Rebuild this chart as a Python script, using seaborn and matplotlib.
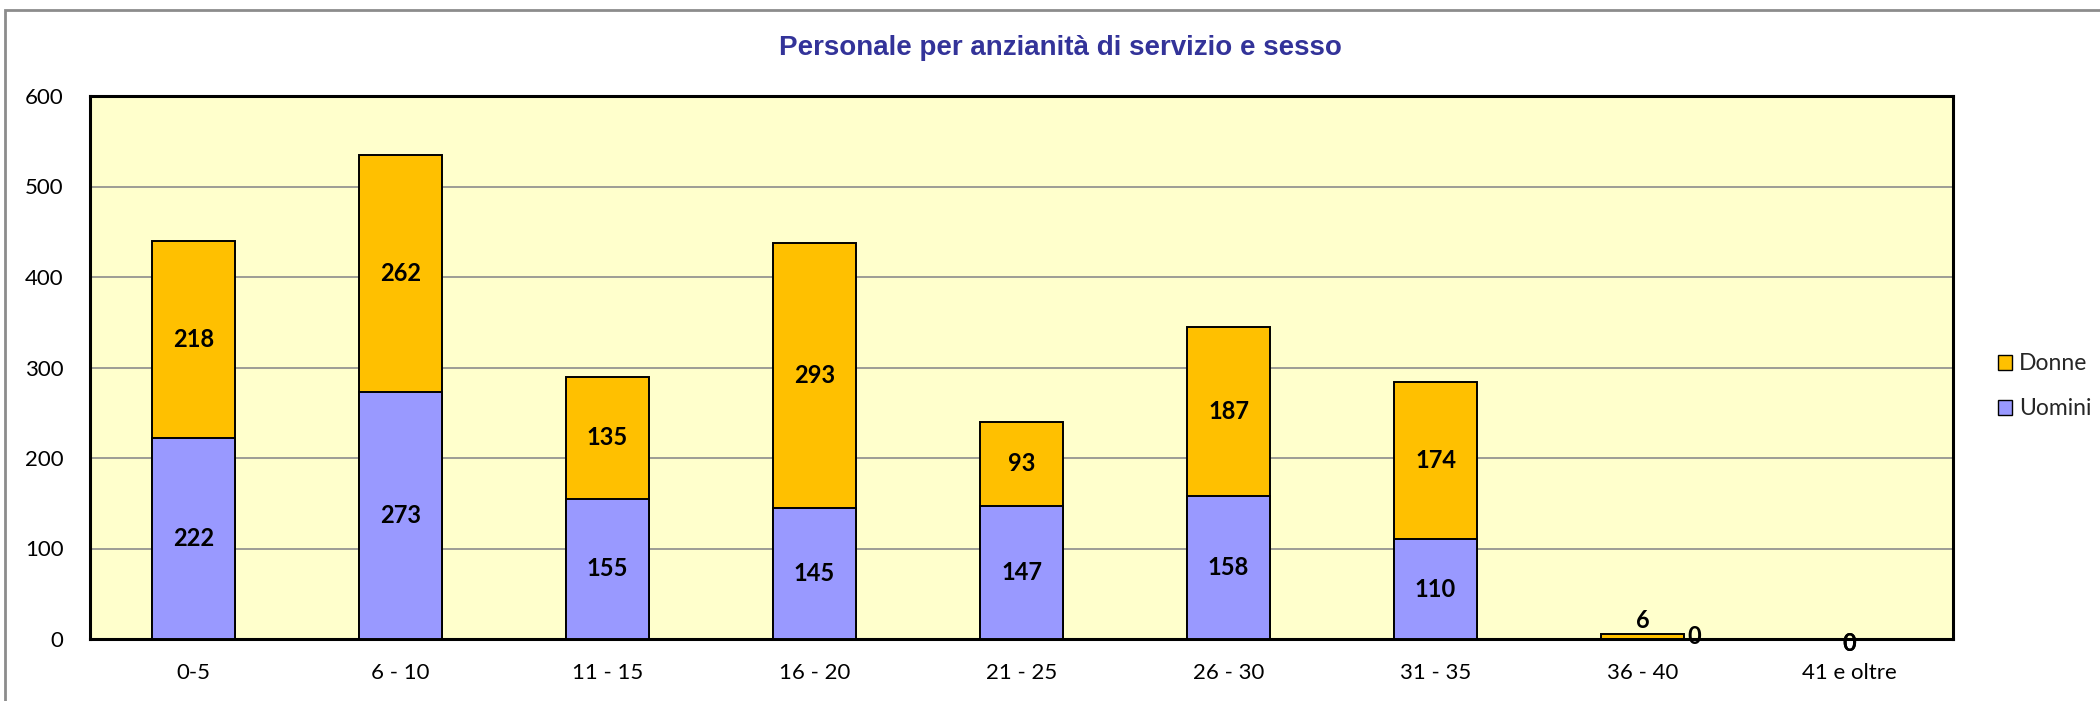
import matplotlib
matplotlib.use("Agg")
import matplotlib.pyplot as plt
import seaborn as sns
import pandas as pd
from matplotlib.patches import Rectangle, Patch

categories = ["0-5", "6 - 10", "11 - 15", "16 - 20", "21 - 25", "26 - 30", "31 - 35", "36 - 40", "41 e oltre"]
uomini = [222, 273, 155, 145, 147, 158, 110, 0, 0]
donne = [218, 262, 135, 293, 93, 187, 174, 6, 0]
yticks = [0, 100, 200, 300, 400, 500, 600]

sns.set_theme(style="white")
plt.rcParams['font.family'] = ['Lato', 'DejaVu Sans']

df = pd.DataFrame({"cat": categories, "Uomini": uomini, "Donne": donne})
df["Totale"] = df["Uomini"] + df["Donne"]

W, H = 2100, 701
fig = plt.figure(figsize=(W / 100, H / 100), dpi=100)
left, right, top, bottom = 90, 1953, 96, 639
ax = fig.add_axes([left / W, 1 - bottom / H, (right - left) / W, (bottom - top) / H])
ax.set_facecolor("#FFFFCC")

sns.barplot(data=df, x="cat", y="Totale", color="#FFC000", width=0.405,
            edgecolor="black", linewidth=1.4, saturation=1, ax=ax, zorder=3)
sns.barplot(data=df, x="cat", y="Uomini", color="#9999FF", width=0.405,
            edgecolor="black", linewidth=1.4, saturation=1, ax=ax, zorder=4)

ax.set_ylim(0, 600)
ax.set_xlim(-0.5, len(categories) - 0.5)
ax.set_yticks(yticks)
ax.set_yticklabels([str(t) for t in yticks], fontsize=16)
ax.tick_params(axis="x", labelsize=16, length=0, pad=17)
ax.tick_params(axis="y", length=0, pad=19)
for t in ax.get_xticklabels() + ax.get_yticklabels():
    t.set_color("black")
ax.set_xlabel("")
ax.set_ylabel("")
ax.yaxis.grid(True, color="#8C8C8C", linewidth=1.2, zorder=0)
ax.set_axisbelow(True)
for s in ax.spines.values():
    s.set_visible(True)
    s.set_color("black")
    s.set_linewidth(2.2)

lab_kw = dict(fontsize=17, fontweight="bold", color="black", zorder=6)
for i, (u, d) in enumerate(zip(uomini, donne)):
    if u + d >= 20:
        ax.text(i, u / 2, str(u), ha="center", va="center", **lab_kw)
        ax.text(i, u + d / 2, str(d), ha="center", va="center", **lab_kw)
    elif u + d > 0:
        ax.text(i, u + d + 2, str(d), ha="center", va="bottom", **lab_kw)
        ax.text(i + 0.215, 3, str(u), ha="left", va="center", **lab_kw)
    else:
        ax.text(i, -5, str(u), ha="center", va="center", **lab_kw)
        ax.text(i, -5, str(d), ha="center", va="center", **lab_kw)

handles = [Patch(facecolor="#FFC000", edgecolor="black", label="Donne"),
           Patch(facecolor="#9999FF", edgecolor="black", label="Uomini")]
fig.legend(handles=handles, loc="center left", bbox_to_anchor=(0.9414, 0.449),
           frameon=False, fontsize=16.5, handlelength=0.65, handleheight=0.65,
           handletextpad=0.3, labelspacing=1.05, borderpad=0.4)

fig.text(0.505, 1 - 48 / H, "Personale per anzianità di servizio e sesso", ha="center", va="center",
         fontsize=20, fontweight="bold", color="#333399", family="Liberation Sans")

fig.patches.append(Rectangle((5 / W, -0.05), 1.2, 1.05 - 10 / H, transform=fig.transFigure,
                             fill=False, edgecolor="#8C8C8C", linewidth=2))

fig.savefig("out.png", dpi=100)
